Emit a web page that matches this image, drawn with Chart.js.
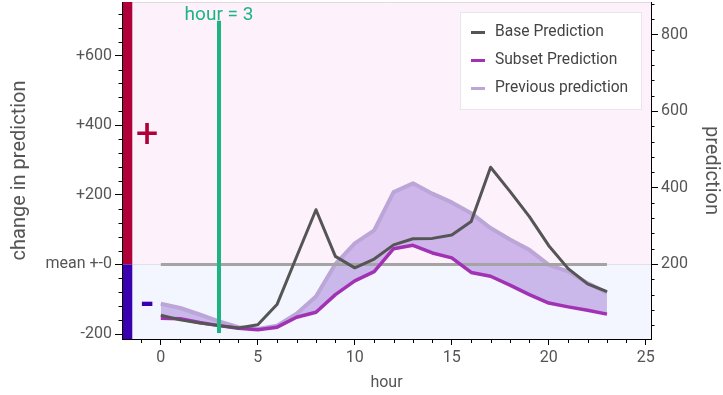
<!DOCTYPE html>
<html><head><meta charset="utf-8">
<script src="https://cdn.jsdelivr.net/npm/chart.js@4.4.1/dist/chart.umd.min.js"></script>
<style>html,body{margin:0;padding:0;background:#fff;}#wrap{width:723px;height:395px;}</style>
</head><body><div id="wrap"><canvas id="c" width="723" height="395"></canvas></div>
<script>
// ---- data ----
const hours = [0,1,2,3,4,5,6,7,8,9,10,11,12,13,14,15,16,17,18,19,20,21,22,23];
const basePrediction     = [66,54,46,39,33,41,95,219,342,220,190,213,250,266,267,276,311,453,390,324,248,188,148,128];
const subsetPrediction   = [58,57,47,39,32,28,35,61,74,120,156,180,240,249,229,216,178,168,145,120,98,88,79,69];
const previousPrediction = [96,85,68,50,35,30,39,70,115,200,254,288,388,411,384,361,333,294,264,237,198,181,150,125];
const meanLineHours  = [0, 23];
const meanLineChange = [0, 0];
const selectedHours  = [3, 3];
const selectedChange = [-197, 700];
const selectedLabel  = 'hour = 3';
const seriesNames = ['Base Prediction', 'Subset Prediction', 'Previous prediction'];
const xTickValues = [0, 5, 10, 15, 20, 25];
const xTickLabels = ['0', '5', '10', '15', '20', '25'];
const leftTickValues = [-200, 0, 200, 400, 600];
const leftTickLabels = ['-200', 'mean +-0', '+200', '+400', '+600'];
const rightTickValues = [200, 400, 600, 800];
const rightTickLabels = ['200', '400', '600', '800'];

const pts = (xs, ys) => xs.map((x, i) => ({x: x, y: ys[i]}));

const colors = {
  base: '#555555', subset: '#a232b4', prev: '#bba6d7',
  fill: 'rgba(155,115,215,0.47)', mean: '#a4a4a4', sel: '#1eb482',
  pos: '#b0003a', neg: '#3a00b0', text: '#555555'
};

Chart.defaults.font.family = 'Roboto';

// explicit tick sets: every `step` from `from` to `to`
const tickSet = (from, to, step) => { const t = []; for (let v = from; v <= to + 1e-9; v += step) t.push({value: v}); return t; };

const decor = {
  id: 'decor',
  beforeDraw(chart) {
    const {ctx, chartArea: a, scales} = chart;
    const x = scales.x, y = scales.y;
    const y0 = y.getPixelForValue(0);
    ctx.save();
    ctx.fillStyle = '#fdf2fc';
    ctx.fillRect(a.left, a.top, a.right - a.left, y0 - a.top);
    ctx.fillStyle = '#f3f6fe';
    ctx.fillRect(a.left, y0, a.right - a.left, a.bottom - y0);
    ctx.strokeStyle = '#e4e0e8'; ctx.lineWidth = 1;
    ctx.beginPath(); ctx.moveTo(a.left, Math.round(y0) + 0.5); ctx.lineTo(a.right, Math.round(y0) + 0.5); ctx.stroke();
    ctx.strokeStyle = '#e2dae2';
    ctx.beginPath(); ctx.moveTo(a.left, a.top + 0.5); ctx.lineTo(a.right, a.top + 0.5); ctx.stroke();
    const bx0 = x.getPixelForValue(-2), bx1 = x.getPixelForValue(-1.47);
    ctx.fillStyle = colors.pos; ctx.fillRect(bx0, a.top, bx1 - bx0, y0 - a.top);
    ctx.fillStyle = colors.neg; ctx.fillRect(bx0, y0, bx1 - bx0, a.bottom - y0);
    ctx.font = '40px Roboto'; ctx.textAlign = 'center'; ctx.textBaseline = 'middle';
    ctx.fillStyle = colors.pos; ctx.fillText('+', x.getPixelForValue(-0.7), y.getPixelForValue(365));
    ctx.font = 'bold 38px Roboto';
    ctx.fillStyle = colors.neg; ctx.fillText('-', x.getPixelForValue(-0.7), y.getPixelForValue(-122));
    ctx.restore();
  },
  afterDraw(chart) {
    const {ctx, chartArea: a, scales} = chart;
    ctx.save();
    ctx.strokeStyle = '#000'; ctx.lineWidth = 1;
    ctx.beginPath();
    scales.y.ticks.forEach(t => { if (!leftTickValues.includes(t.value)) { const p = Math.round(scales.y.getPixelForValue(t.value)) + 0.5; ctx.moveTo(a.left - 3.5, p); ctx.lineTo(a.left, p); } });
    scales.y2.ticks.forEach(t => { if (!rightTickValues.includes(t.value)) { const p = Math.round(scales.y2.getPixelForValue(t.value)) + 0.5; ctx.moveTo(a.right, p); ctx.lineTo(a.right + 3.5, p); } });
    scales.x.ticks.forEach(t => { if (!xTickValues.includes(t.value)) { const p = Math.round(scales.x.getPixelForValue(t.value)) + 0.5; ctx.moveTo(p, a.bottom); ctx.lineTo(p, a.bottom + 4); } });
    ctx.stroke();
    // selected hour label
    ctx.font = '19px Roboto'; ctx.fillStyle = colors.sel; ctx.textAlign = 'center'; ctx.textBaseline = 'alphabetic';
    ctx.fillText(selectedLabel, scales.x.getPixelForValue(selectedHours[0]), a.top + 17.5);
    // legend
    const lw = 181, lh = 97;
    const lx = a.right - 10 - lw, ly = a.top + 10;
    ctx.fillStyle = '#ffffff'; ctx.fillRect(lx, ly, lw, lh);
    ctx.strokeStyle = '#e8e6ea'; ctx.strokeRect(Math.round(lx) + 0.5, Math.round(ly) + 0.5, lw, lh);
    const lc = [colors.base, colors.subset, colors.prev];
    ctx.font = '15.6px Roboto'; ctx.textAlign = 'left'; ctx.textBaseline = 'middle';
    seriesNames.forEach((n, i) => {
      const yy = ly + 20.5 + i * 28;
      ctx.strokeStyle = lc[i]; ctx.lineWidth = 3;
      ctx.beginPath(); ctx.moveTo(lx + 11, yy); ctx.lineTo(lx + 25, yy); ctx.stroke();
      ctx.fillStyle = '#444'; ctx.fillText(n, lx + 35, yy);
    });
    ctx.restore();
  }
};

const tickColorFor = vals => c => vals.includes(c.tick.value) ? '#000' : 'rgba(0,0,0,0)';
const labelFor = (vals, labels) => v => { const i = vals.indexOf(v); return i >= 0 ? labels[i] : ''; };
const noPad = s => { s.paddingTop = 0; s.paddingBottom = 0; s.paddingLeft = 0; s.paddingRight = 0; };

new Chart(document.getElementById('c'), {
  type: 'line',
  data: {
    datasets: [
      {label: seriesNames[0], data: pts(hours, basePrediction), yAxisID: 'y2', borderColor: colors.base, borderWidth: 3, pointRadius: 0, fill: false, tension: 0, order: 1, borderJoinStyle: 'round'},
      {label: seriesNames[1], data: pts(hours, subsetPrediction), yAxisID: 'y2', borderColor: colors.subset, borderWidth: 3.5, pointRadius: 0, fill: false, tension: 0, order: 2, borderJoinStyle: 'round'},
      {label: seriesNames[2], data: pts(hours, previousPrediction), yAxisID: 'y2', borderColor: colors.prev, borderWidth: 4, pointRadius: 0, tension: 0, order: 3, borderJoinStyle: 'round',
        fill: {target: 1, above: colors.fill, below: colors.fill}},
      {label: 'mean', data: pts(meanLineHours, meanLineChange), yAxisID: 'y', borderColor: colors.mean, borderWidth: 3, pointRadius: 0, fill: false, order: 2.5},
      {label: 'selected', data: pts(selectedHours, selectedChange), yAxisID: 'y', borderColor: colors.sel, borderWidth: 4, pointRadius: 0, fill: false, order: 0, borderCapStyle: 'butt'}
    ]
  },
  options: {
    responsive: false, animation: false, devicePixelRatio: 1,
    layout: {padding: {top: 2, left: 0, right: 0, bottom: 0}},
    plugins: {legend: {display: false}, tooltip: {enabled: false}},
    scales: {
      x: {type: 'linear', position: 'bottom', min: -2, max: 25.27,
        afterBuildTicks(s) { s.ticks = tickSet(-1, 25, 1); },
        afterFit(s) { s.height = 56; noPad(s); },
        border: {display: true, color: '#000', width: 1},
        grid: {drawOnChartArea: false, drawTicks: true, tickLength: 6, tickColor: tickColorFor(xTickValues)},
        ticks: {autoSkip: false, maxRotation: 0, color: colors.text, font: {size: 16}, padding: 3, callback: labelFor(xTickValues, xTickLabels)},
        title: {display: true, text: 'hour', color: colors.text, font: {size: 16}, padding: {top: 0, bottom: 2}}
      },
      y: {type: 'linear', position: 'left', min: -214, max: 754,
        afterBuildTicks(s) { s.ticks = tickSet(-200, 720, 40); },
        afterFit(s) { s.width = 122; noPad(s); },
        border: {display: true, color: '#000', width: 1},
        grid: {drawOnChartArea: false, drawTicks: true, tickLength: 7, tickColor: tickColorFor(leftTickValues)},
        ticks: {autoSkip: false, color: colors.text, font: {size: 16}, padding: 3, callback: labelFor(leftTickValues, leftTickLabels)},
        title: {display: true, text: 'change in prediction', color: colors.text, font: {size: 20}, padding: {top: 8, bottom: 0}}
      },
      y2: {type: 'linear', position: 'right', min: 4, max: 885,
        afterBuildTicks(s) { s.ticks = tickSet(40, 880, 40); },
        afterFit(s) { s.width = 72; noPad(s); },
        border: {display: true, color: '#000', width: 1},
        grid: {drawOnChartArea: false, drawTicks: true, tickLength: 7, tickColor: tickColorFor(rightTickValues)},
        ticks: {autoSkip: false, color: colors.text, font: {size: 16}, padding: 3, callback: labelFor(rightTickValues, rightTickLabels)},
        title: {display: true, text: 'prediction', color: colors.text, font: {size: 20}, padding: {top: 0, bottom: 0}}
      }
    }
  },
  plugins: [decor]
});
</script>
</body></html>
